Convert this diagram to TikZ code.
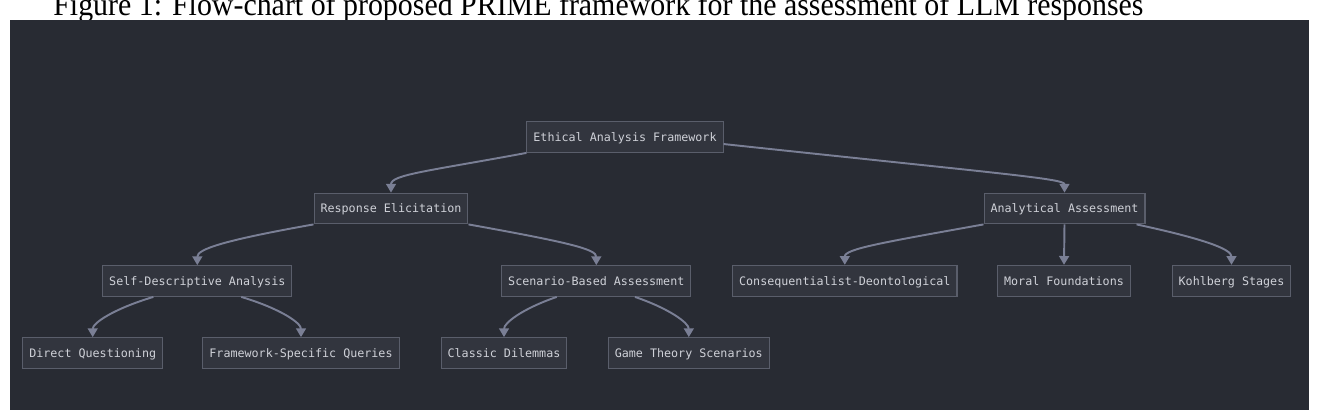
\documentclass[tikz,border=0pt]{standalone}
\usepackage{fontspec}
\setmainfont{Liberation Serif}
\setmonofont{DejaVu Sans Mono}
\usepackage{xcolor}
\usepackage{tikz}
\usetikzlibrary{arrows.meta}
\definecolor{bgdark}{HTML}{282B33}
\definecolor{boxfill}{HTML}{32353E}
\definecolor{boxline}{HTML}{5A5E6B}
\definecolor{boxtext}{HTML}{CFD1D8}
\definecolor{linkgray}{HTML}{7A7F95}

\begin{document}
\begin{tikzpicture}[
    x=0.02cm, y=-0.02cm,
    box/.style={draw=boxline, fill=boxfill, line width=0.6pt, text=boxtext, font=\fontsize{6.66}{8}\selectfont\ttfamily, minimum height=17.5pt, inner xsep=3.7pt, inner ysep=0pt, text height=4.9pt, text depth=0pt},
    link/.style={draw=linkgray, line width=1.1pt, -{Triangle[length=5pt, width=5.6pt]}},
    figcap/.style={font=\fontsize{18.2}{20}\selectfont, anchor=base west, inner sep=0pt, xscale=0.935, transform shape}
]
\clip (0,0) rectangle (1319,414);
\fill[white] (0,0) rectangle (1319,414);
\node[figcap] (caption) at (53,15.5) {Figure 1: Flow-chart of proposed PRIME framework for the assessment of LLM responses};
\fill[bgdark] (10,20) rectangle (1309,410);

\node[box] (ethical) at (625,137) {Ethical Analysis Framework};
\node[box] (response) at (391,208.5) {Response Elicitation};
\node[box] (analytical) at (1064.5,208.5) {Analytical Assessment};
\node[box] (selfdesc) at (197.3,281) {Self-Descriptive Analysis};
\node[box] (scenario) at (596.3,281) {Scenario-Based Assessment};
\node[box] (conseq) at (844.8,280.7) {Consequentialist-Deontological};
\node[box] (moral) at (1064,280.7) {Moral Foundations};
\node[box] (kohlberg) at (1231.5,280.7) {Kohlberg Stages};
\node[box] (direct) at (92.7,353) {Direct Questioning};
\node[box] (specific) at (301,353) {Framework-Specific Queries};
\node[box] (classic) at (504,353) {Classic Dilemmas};
\node[box] (gametheory) at (688.8,353) {Game Theory Scenarios};

\draw[link] (ethical.south west) .. controls +(-97,18) and +(0,-18) .. (response.north);
\draw[link] ([yshift=-4pt]ethical.east) .. controls +(280,30) and +(0,-14) .. (analytical.north);
\draw[link] (response.south west) .. controls +(-90,16) and +(0,-16) .. (selfdesc.north);
\draw[link] (response.south east) .. controls +(100,18) and +(0,-16) .. (scenario.north);
\draw[link] ([xshift=-25pt]selfdesc.south) .. controls +(-40,12) and +(0,-14) .. (direct.north);
\draw[link] ([xshift=25pt]selfdesc.south) .. controls +(40,12) and +(0,-14) .. (specific.north);
\draw[link] ([xshift=-22.5pt]scenario.south) .. controls +(-35,12) and +(0,-14) .. (classic.north);
\draw[link] ([xshift=22pt]scenario.south) .. controls +(35,12) and +(0,-14) .. (gametheory.north);
\draw[link] (analytical.south west) .. controls +(-100,18) and +(0,-16) .. (conseq.north);
\draw[link] (analytical.south) -- (moral.north);
\draw[link] ([xshift=41pt]analytical.south) .. controls +(65,14) and +(0,-16) .. (kohlberg.north);
\end{tikzpicture}
\end{document}
